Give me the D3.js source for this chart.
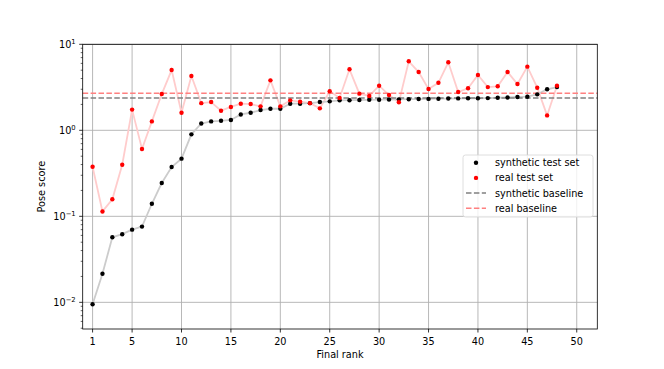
<!DOCTYPE html>
<html>
<head>
<meta charset="utf-8">
<script src="https://d3js.org/d3.v7.min.js"></script>
<style>
	body{margin:0;background:#fff;}
	svg text{font-family:"DejaVu Sans",sans-serif;fill:#000;}
</style>
</head>
<body>
<div id="chart"></div>
<script>
// values
var ranks = d3.range(1, 49);
var synthetic = [0.0095,0.0215,0.057,0.062,0.070,0.076,0.140,0.244,0.374,0.468,
	0.898,1.20,1.27,1.29,1.32,1.53,1.60,1.72,1.78,1.78,
	2.04,2.04,2.07,2.13,2.17,2.23,2.24,2.25,2.26,2.27,
	2.28,2.29,2.30,2.31,2.32,2.33,2.34,2.35,2.36,2.36,
	2.37,2.39,2.41,2.44,2.46,2.62,3.00,3.18];
var real = [0.377,0.114,0.158,0.398,1.74,0.607,1.27,2.64,5.02,1.60,
	4.28,2.07,2.13,1.69,1.87,2.04,2.02,1.90,3.81,1.90,
	2.23,2.15,2.07,1.80,2.84,2.38,5.12,2.67,2.51,3.30,
	2.57,2.12,6.34,4.76,3.02,3.57,6.18,2.79,3.08,4.40,
	3.18,3.25,4.76,3.45,5.50,3.13,1.49,3.30];
var baselines = [{name:"synthetic baseline", value:2.38, color:"#808080"},
	{name:"real baseline", value:2.69, color:"#ff8080"}];
var xTicks = [1,5,10,15,20,25,30,35,40,45,50];
var yExps = [-2,-1,0,1];

var W = 664, H = 369;
// plot box (window.top is reserved, so use own names)
var pLeft = 82.7, pRight = 597.3, pTop = 44.3, pBottom = 329;

var svg = d3.select("#chart").append("svg").attr("width", W).attr("height", H);

var x = d3.scaleLinear().domain([0, 52.08]).range([pLeft, pRight]);
var y = d3.scaleLog().domain([Math.pow(10, -2.31), 10]).range([pBottom, pTop]);

var plot = svg.append("g");

// grid
plot.selectAll(".gx").data(xTicks).enter().append("line")
	.attr("x1", function(d){return x(d);}).attr("x2", function(d){return x(d);})
	.attr("y1", pTop).attr("y2", pBottom)
	.attr("stroke", "#b0b0b0").attr("stroke-width", 0.9);
plot.selectAll(".gy").data(yExps).enter().append("line")
	.attr("x1", pLeft).attr("x2", pRight)
	.attr("y1", function(d){return y(Math.pow(10, d));}).attr("y2", function(d){return y(Math.pow(10, d));})
	.attr("stroke", "#b0b0b0").attr("stroke-width", 0.9);

var line = function(vals){
	return d3.line().x(function(d, i){return x(ranks[i]);}).y(function(d){return y(d);})(vals);
};

// connecting lines
plot.append("path").attr("d", line(real)).attr("fill", "none")
	.attr("stroke", "#ffcccc").attr("stroke-width", 1.8);
plot.append("path").attr("d", line(synthetic)).attr("fill", "none")
	.attr("stroke", "#cccccc").attr("stroke-width", 1.8);

// baselines
baselines.forEach(function(b){
	plot.append("line").attr("x1", pLeft).attr("x2", pRight)
		.attr("y1", y(b.value)).attr("y2", y(b.value))
		.attr("stroke", b.color).attr("stroke-width", 1.5)
		.attr("stroke-dasharray", "5.5,2.4");
});

// points
plot.selectAll(".ps").data(synthetic).enter().append("circle")
	.attr("cx", function(d, i){return x(ranks[i]);}).attr("cy", function(d){return y(d);})
	.attr("r", 2.2).attr("fill", "#000");
plot.selectAll(".pr").data(real).enter().append("circle")
	.attr("cx", function(d, i){return x(ranks[i]);}).attr("cy", function(d){return y(d);})
	.attr("r", 2.2).attr("fill", "#ff0000");

// spines
svg.append("rect").attr("x", pLeft).attr("y", pTop)
	.attr("width", pRight - pLeft).attr("height", pBottom - pTop)
	.attr("fill", "none").attr("stroke", "#000").attr("stroke-width", 0.8);

// x axis
var xa = svg.append("g");
xTicks.forEach(function(t){
	xa.append("line").attr("x1", x(t)).attr("x2", x(t)).attr("y1", pBottom).attr("y2", pBottom + 3.5)
		.attr("stroke", "#000").attr("stroke-width", 0.8);
	xa.append("text").attr("x", x(t)).attr("y", pBottom + 15.5)
		.attr("text-anchor", "middle").attr("font-size", "9.7px").text(t);
});
svg.append("text").attr("x", (pLeft + pRight) / 2).attr("y", 357.5)
	.attr("text-anchor", "middle").attr("font-size", "9.7px").text("Final rank");

// y axis, log ticks
var ya = svg.append("g");
yExps.forEach(function(e){
	var yy = y(Math.pow(10, e));
	ya.append("line").attr("x1", pLeft - 3.5).attr("x2", pLeft).attr("y1", yy).attr("y2", yy)
		.attr("stroke", "#000").attr("stroke-width", 0.8);
	var t = ya.append("text").attr("x", pLeft - 7).attr("y", yy + 3.5)
		.attr("text-anchor", "end").attr("font-size", "9.7px");
	t.append("tspan").text("10");
	t.append("tspan").attr("dy", -4.2).attr("font-size", "6.8px")
		.text(e < 0 ? "\u2212" + (-e) : e);
	for(var m = 2; m < 10; m++){
		var v = m * Math.pow(10, e - 1);
		if(v < y.domain()[0] || v > 10) continue;
		ya.append("line").attr("x1", pLeft - 2).attr("x2", pLeft).attr("y1", y(v)).attr("y2", y(v))
			.attr("stroke", "#000").attr("stroke-width", 0.6);
	}
});
svg.append("text").attr("transform", "translate(45," + ((pTop + pBottom) / 2) + ") rotate(-90)")
	.attr("text-anchor", "middle").attr("font-size", "9.7px").text("Pose score");

// legend
var lg = svg.append("g").attr("transform", "translate(463,155)");
lg.append("rect").attr("width", 130).attr("height", 62).attr("rx", 2.5)
	.attr("fill", "#fff").attr("fill-opacity", 0.8)
	.attr("stroke", "#d6d6d6").attr("stroke-width", 0.8);
var items = [{name:"synthetic test set", color:"#000", type:"dot"},
	{name:"real test set", color:"#ff0000", type:"dot"},
	{name:baselines[0].name, color:baselines[0].color, type:"dash"},
	{name:baselines[1].name, color:baselines[1].color, type:"dash"}];
items.forEach(function(it, i){
	var ry = 7.7 + i * 15.2;
	if(it.type == "dot"){
		lg.append("circle").attr("cx", 13).attr("cy", ry).attr("r", 2.2).attr("fill", it.color);
	}else{
		lg.append("line").attr("x1", 3).attr("x2", 23).attr("y1", ry).attr("y2", ry)
			.attr("stroke", it.color).attr("stroke-width", 1.5).attr("stroke-dasharray", "5.5,2.4");
	}
	lg.append("text").attr("x", 32).attr("y", ry + 3.5).attr("font-size", "9.7px").text(it.name);
});
</script>
</body>
</html>
